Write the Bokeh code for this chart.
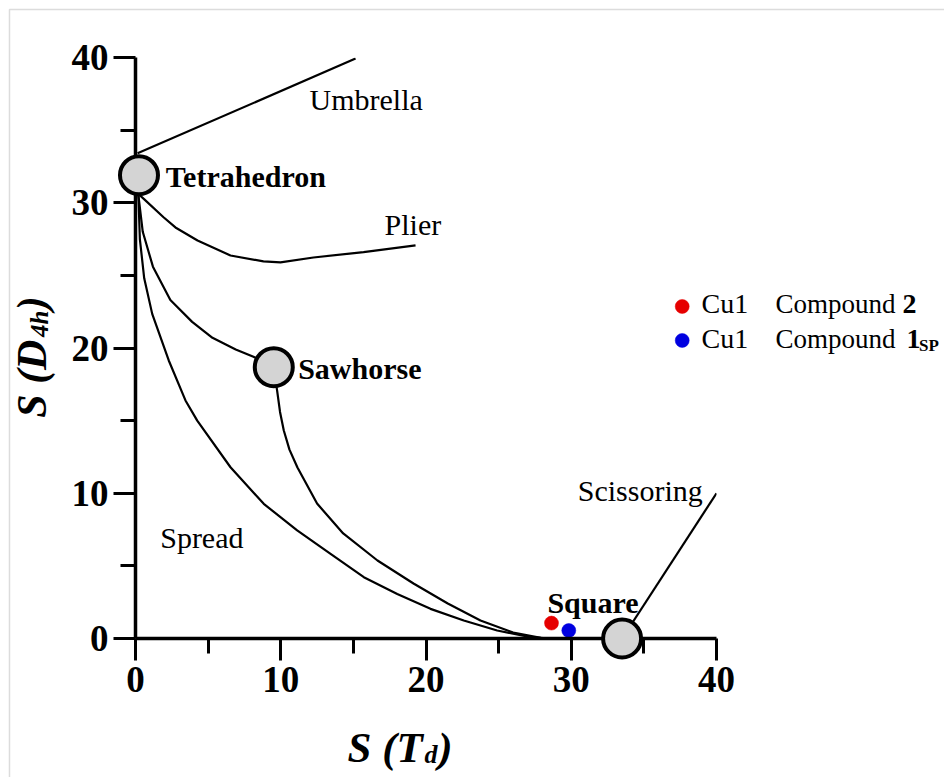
import math
from bokeh.plotting import figure
from bokeh.models import FixedTicker
from bokeh.core.properties import value
from bokeh.embed import file_html
from bokeh.resources import INLINE

# ---------------- data ----------------
x_ticks = [0, 10, 20, 30, 40]
y_ticks = [0, 10, 20, 30, 40]
minor_ticks = [5, 15, 25, 35]

umbrella_x = [0.14, 15.15]
umbrella_y = [33.4, 39.93]

plier_x = [0.2, 0.57, 1.93, 2.75, 4.27, 6.54, 8.81, 9.98, 12.25, 15.7, 19.28]
plier_y = [30.6, 30.27, 29.0, 28.3, 27.4, 26.37, 25.96, 25.89, 26.23, 26.6, 27.06]

tet_saw_x = [0.2, 0.5, 1.2, 2.4, 3.9, 5.3, 6.9, 8.12, 9.52]
tet_saw_y = [30.5, 28.0, 25.6, 23.3, 21.8, 20.7, 19.9, 19.4, 18.68]

saw_sq_x = [9.52, 9.62, 9.75, 9.95, 10.21, 10.6, 11.15, 12.5, 14.3, 16.66, 19.14, 21.5, 23.75, 26.0, 27.9, 28.5]
saw_sq_y = [18.68, 17.9, 17.07, 15.6, 14.32, 13.0, 11.77, 9.29, 7.23, 5.37, 3.79, 2.41, 1.24, 0.41, 0.05, 0.0]

spread_x = [0.2, 0.3, 0.6, 1.15, 2.29, 3.44, 4.25, 6.54, 8.83, 11.13, 13.43, 15.72, 18.02, 20.31, 22.6, 24.9, 27.2, 28.5]
spread_y = [30.5, 27.5, 24.8, 22.35, 19.14, 16.39, 15.0, 11.79, 9.27, 7.44, 5.83, 4.22, 3.07, 2.04, 1.24, 0.55, 0.09, 0.0]

scissor_x = [33.5, 40.0]
scissor_y = [0.0, 10.0]

shape_names = ["Tetrahedron", "Sawhorse", "Square"]
shape_x = [0.24, 9.52, 33.5]
shape_y = [31.9, 18.68, 0.0]

path_names = ["Umbrella", "Plier", "Scissoring", "Spread"]

compound_atoms = ["Cu1", "Cu1"]
compound_names = ["2", "1"]
compound_x = [28.64, 29.83]
compound_y = [1.06, 0.55]
compound_colors = ["#e60000", "#0000e0"]

# ---------------- figure ----------------
FONT = "Liberation Serif"
p = figure(width=944, height=777, x_range=(0, 40), y_range=(0, 40),
           output_backend="svg", toolbar_location=None,
           min_border_left=135, min_border_right=228,
           min_border_top=57, min_border_bottom=139)
p.xgrid.visible = False
p.ygrid.visible = False
p.outline_line_color = None
p.background_fill_color = "white"
p.border_fill_color = "white"

for ax, ticks in ((p.xaxis[0], x_ticks), (p.yaxis[0], y_ticks)):
    ax.ticker = FixedTicker(ticks=ticks, minor_ticks=minor_ticks)
    ax.axis_line_width = 3.5
    ax.axis_line_color = "black"
    ax.major_tick_line_width = 3
    ax.minor_tick_line_width = 3
    ax.major_tick_line_color = "black"
    ax.minor_tick_line_color = "black"
    ax.major_tick_in = 0
    ax.major_tick_out = 22
    ax.minor_tick_in = 0
    ax.minor_tick_out = 15
    ax.major_label_text_font = FONT
    ax.major_label_text_font_style = "bold"
    ax.major_label_text_font_size = "37px"
    ax.major_label_text_color = "black"
p.xaxis[0].major_label_standoff = 6
p.yaxis[0].major_label_standoff = 5

# light frame of the original picture (top and left edges)
frame_r = p.line([55.7, -8.675, -8.675], [43.30, 43.30, -9.57],
                 line_color="#dcdcdc", line_width=1.5)
frame_r.level = "overlay"

# curves
for xs, ys in ((umbrella_x, umbrella_y), (plier_x, plier_y), (tet_saw_x, tet_saw_y),
               (saw_sq_x, saw_sq_y), (spread_x, spread_y), (scissor_x, scissor_y)):
    p.line(xs, ys, line_color="black", line_width=2.2)

# compound points
p.scatter(compound_x, compound_y, size=14, fill_color=compound_colors,
          line_color=compound_colors, line_width=0.5)

# reference shapes
rs = p.scatter(shape_x, shape_y, size=38, fill_color="#d4d4d4",
               line_color="black", line_width=4)
rs.level = "overlay"

DY = 0.72  # baseline correction of the text glyphs


def lab(text, x, y, size=30, style="normal", angle=0.0):
    if angle:
        x = x - DY
    else:
        y = y + DY
    r = p.text(x=[x], y=[y], text=[text], text_font=value(FONT),
               text_font_size=f"{int(size)}px", text_font_style=style,
               text_color="black", text_align="left",
               text_baseline="alphabetic", angle=angle)
    r.level = "overlay"


# shape labels
lab(shape_names[0], 2.09, 31.08, 30, "bold")
lab(shape_names[1], 11.2, 17.9, 30, "bold")
lab(shape_names[2], 28.36, 1.77, 30, "bold")

# path labels
lab(path_names[0], 11.98, 36.42)
lab(path_names[1], 17.15, 27.75)
lab(path_names[2], 30.45, 9.5)
lab(path_names[3], 1.7, 6.2)

# legend
leg = p.scatter([37.64, 37.64], [22.86, 20.52], size=14, fill_color=compound_colors,
                line_color=compound_colors, line_width=0.5)
leg.level = "overlay"
lab(compound_atoms[0], 38.97, 22.31, 28)
lab("Compound", 44.06, 22.31, 27)
lab(compound_names[0], 52.8, 22.31, 28, "bold")
lab(compound_atoms[1], 38.97, 19.9, 28)
lab("Compound", 44.06, 19.9, 27)
lab(compound_names[1], 53.08, 19.9, 28, "bold")
lab("SP", 53.95, 19.45, 17, "bold")

# axis titles
lab("S (T", 14.6, -8.19, 43, "bold italic")
lab("d", 19.9, -8.74, 26, "bold italic")
lab(")", 20.85, -8.19, 43, "bold italic")

lab("S (D", -6.40, 15.2, 42, "bold italic", math.pi / 2)
lab("4h", -5.92, 20.76, 25, "bold italic", math.pi / 2)
lab(")", -6.40, 22.6, 42, "bold italic", math.pi / 2)

open("out.html", "w").write(file_html(p, INLINE))
